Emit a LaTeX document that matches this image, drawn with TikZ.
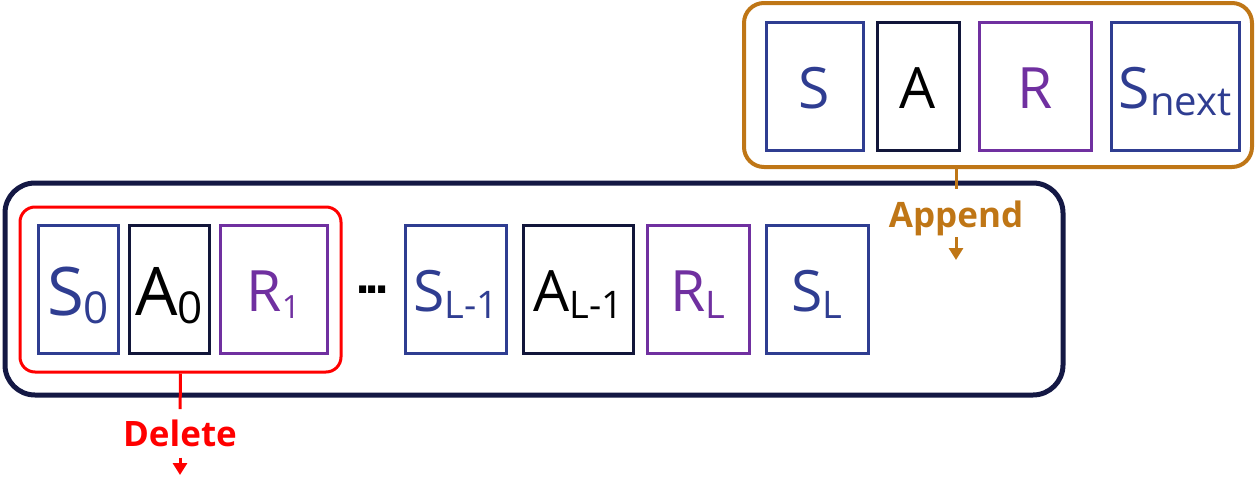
\documentclass[tikz,border=0pt]{standalone}
\usepackage{fontspec}
\setmainfont{Open Sans}
\newfontfamily\dotfont{DejaVu Sans}
\usetikzlibrary{arrows.meta}

\definecolor{sblue}{RGB}{47,61,145}
\definecolor{anavy}{RGB}{18,22,58}
\definecolor{rpurple}{RGB}{112,48,160}
\definecolor{bufnavy}{RGB}{20,24,68}
\definecolor{addbrown}{RGB}{191,118,22}

% lowered index: drop, size, text
\newcommand{\lowsub}[3]{\raisebox{-#1pt}{\fontsize{#2}{#2}\selectfont #3}}

\tikzset{
  cell/.style={draw, line width=3pt, minimum height=128pt, inner sep=0pt, text depth=0pt},
  bigcell/.style={cell, text height=52pt, font=\fontsize{67}{67}\selectfont},
  smcell/.style={cell, text height=44pt, font=\fontsize{57}{57}\selectfont},
  scell/.style={draw=sblue, text=sblue},
  acell/.style={draw=anavy, text=black},
  rcell/.style={draw=rpurple, text=rpurple},
  oplabel/.style={font=\fontsize{35}{35}\selectfont\bfseries, inner sep=0pt, anchor=base},
  opline/.style={line width=3pt},
  oparrow/.style={line width=3pt, -{Triangle[length=12pt,width=14pt]}},
}

\begin{document}
\begin{tikzpicture}[x=1pt,y=-1pt]
  \useasboundingbox (0,0) rectangle (1256,477);

  % replay buffer
  \node[draw=bufnavy, line width=5pt, rounded corners=30pt, minimum width=1058pt, minimum height=212pt] (buffer) at (534,289) {};
  \node[draw=red, line width=3pt, rounded corners=15pt, minimum width=321pt, minimum height=165pt] (oldest) at (180.5,289.5) {};

  \node[bigcell, scell, minimum width=80pt]  (s0)  at (78,289)    {S\lowsub{8}{44}{0}};
  \node[bigcell, acell, minimum width=80pt]  (a0)  at (169,289)   {A\lowsub{8}{44}{0}};
  \node[smcell, rcell, minimum width=107pt]  (r1)  at (273.5,289) {R\lowsub{7}{32}{1}};
  \node[font=\dotfont\fontsize{40}{40}\selectfont\bfseries, inner sep=0pt] (gap) at (372.5,289.5) {.\kern-6pt.\kern-6pt.};
  \node[smcell, scell, minimum width=101pt]  (sl1) at (455.5,289) {S\lowsub{7}{38}{L-1}};
  \node[smcell, acell, minimum width=110pt]  (al1) at (578.5,289) {A\lowsub{7}{38}{L-1}};
  \node[smcell, rcell, minimum width=102pt]  (rl)  at (698,289)   {R\lowsub{7}{38}{L}};
  \node[smcell, scell, minimum width=102pt]  (sl)  at (817,289)   {S\lowsub{7}{38}{L}};

  % new transition
  \node[draw=addbrown, line width=4pt, rounded corners=20pt, minimum width=508pt, minimum height=164pt] (newtr) at (998,85) {};

  \node[smcell, scell, minimum width=97pt]   (s)     at (814.5,86) {S};
  \node[smcell, acell, minimum width=82pt]   (a)     at (918,86)   {A};
  \node[smcell, rcell, minimum width=112pt]  (r)     at (1035,86)  {R};
  \node[smcell, scell, minimum width=128pt]  (snext) at (1175,86)  {S\lowsub{7}{40}{next}};

  % operations
  \node[oplabel, text=red] (del) at (180,446) {Delete};
  \coordinate (delend) at (180,475);
  \draw[opline, red, shorten >=10pt] (oldest.south) -- (del.north);
  \draw[oparrow, red, shorten <=11pt] (del.south) -- (delend);

  \node[oplabel, text=addbrown] (app) at (956,227) {Append};
  \coordinate (append) at (956,260);
  \draw[opline, addbrown, shorten >=11pt] (newtr.south -| app.north) -- (app.north);
  \draw[oparrow, addbrown, shorten <=10pt] (app.base) -- (append);
\end{tikzpicture}
\end{document}
